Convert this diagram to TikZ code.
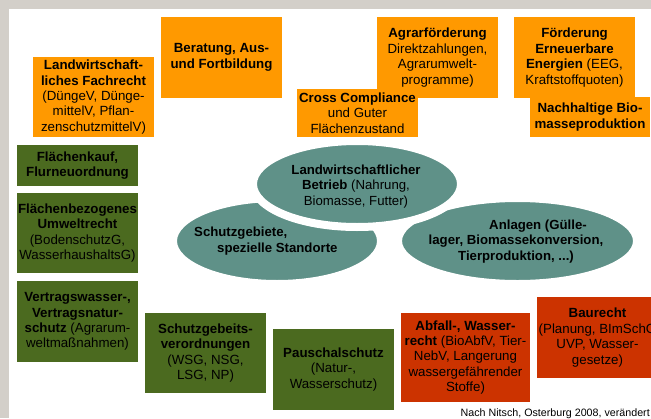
\documentclass[tikz,border=0pt]{standalone}
\usepackage{fontspec}
\setmainfont{Liberation Sans}
\definecolor{frame}{HTML}{D3CFC9}
\definecolor{obox}{HTML}{FF9900}
\definecolor{gbox}{HTML}{4B6A1F}
\definecolor{rbox}{HTML}{CC3300}
\definecolor{teal}{HTML}{5F9188}
\tikzset{
  box/.style={inner sep=0pt, align=center, minimum width=121pt, minimum height=80pt,
    font=\fontsize{13.3}{15.4}\selectfont, text=black},
  orangebox/.style={box, fill=obox},
  greenbox/.style={box, fill=gbox},
  redbox/.style={box, fill=rbox},
  blob/.style={fill=teal, draw=white, line width=8pt},
  blobtext/.style={inner sep=0pt, font=\fontsize{13.2}{15.6}\selectfont, text=black}
}
\begin{document}
\begin{tikzpicture}[x=1pt,y=-1pt]
\useasboundingbox (0,0) rectangle (651,418);
\clip (0,0) rectangle (651,418);
\fill[frame] (0,0) rectangle (651,418);
\fill[white] (9,9) rectangle (651,418);

% ellipses
\draw[blob] (277,241) ellipse [x radius=104, y radius=43];
\draw[blob] (517.5,241) ellipse [x radius=119.5, y radius=43];
\draw[blob] (357,184) ellipse [x radius=104, y radius=43];
\node[blobtext, align=center] (betrieb) at (356,186.5)
  {\textbf{Landwirtschaftlicher}\\\textbf{Betrieb} (Nahrung,\\Biomasse, Futter)};
\node[blobtext, align=left, anchor=west] (schutz) at (194,241)
  {\textbf{Schutzgebiete,}\\\hspace*{23pt}\textbf{spezielle Standorte}};
\node[blobtext, align=center, font=\fontsize{13.2}{15.6}\selectfont\bfseries] (anlagen) at (516,241.5)
  {\hspace*{44pt}Anlagen (Gülle-\\lager, Biomassekonversion,\\Tierproduktion, ...)};

% orange boxes
\node[orangebox] (fach) at (93.5,97)
  {\textbf{Landwirtschaft-}\\\textbf{liches Fachrecht}\\(DüngeV, Dünge-\\mittelV, Pflan-\\zenschutzmittelV)};
\node[orangebox, minimum height=81pt] (berat) at (221.5,57.5)
  {\textbf{Beratung, Aus-}\\\textbf{und Fortbildung}};
\node[orangebox, minimum height=81pt] (agrar) at (437.5,57.5)
  {\textbf{Agrarförderung}\\Direktzahlungen,\\Agrarumwelt-\\programme)};
\node[orangebox, minimum height=48pt] (cross) at (357.5,113)
  {\textbf{Cross Compliance}\\und Guter\\Flächenzustand};
\node[orangebox, minimum height=81pt] (foerd) at (574.5,57.5)
  {\textbf{Förderung}\\\textbf{Erneuerbare}\\\textbf{Energien} (EEG,\\Kraftstoffquoten)};
\node[orangebox, minimum width=120pt, minimum height=40pt] (nachh) at (590,117)
  {\textbf{Nachhaltige Bio-}\\\textbf{masseproduktion}};

% green boxes
\node[greenbox, minimum height=41pt] (kauf) at (77.5,165.5)
  {\textbf{Flächenkauf,}\\\textbf{Flurneuordnung}};
\node[greenbox] (flbez) at (77.5,233)
  {\textbf{Flächenbezogenes}\\\textbf{Umweltrecht}\\(BodenschutzG,\\WasserhaushaltsG)};
\node[greenbox, minimum height=81pt] (vertr) at (77.5,321.5)
  {\textbf{Vertragswasser-,}\\\textbf{Vertragsnatur-}\\\textbf{schutz} (Agrarum-\\weltmaßnahmen)};
\node[greenbox] (schutzv) at (205.5,353)
  {\textbf{Schutzgebeits-}\\\textbf{verordnungen}\\(WSG, NSG,\\LSG, NP)};
\node[greenbox, minimum height=81pt] (pausch) at (333.5,369.5)
  {\textbf{Pauschalschutz}\\(Natur-,\\Wasserschutz)};

% red boxes
\node[redbox, minimum width=129pt, minimum height=89pt] (abfall) at (465.5,357.5)
  {\textbf{Abfall-, Wasser-}\\\textbf{recht} (BioAbfV, Tier-\\NebV, Langerung\\wassergefährender\\Stoffe)};
\node[redbox, minimum height=81pt] (baur) at (597.5,337.5)
  {\textbf{Baurecht}\\(Planung, BImSchG\\UVP, Wasser-\\gesetze)};

% caption
\node[inner sep=0pt, anchor=base east, font=\fontsize{10.7}{12}\selectfont] (quelle) at (650,416)
  {Nach Nitsch, Osterburg 2008, verändert};
\end{tikzpicture}
\end{document}
